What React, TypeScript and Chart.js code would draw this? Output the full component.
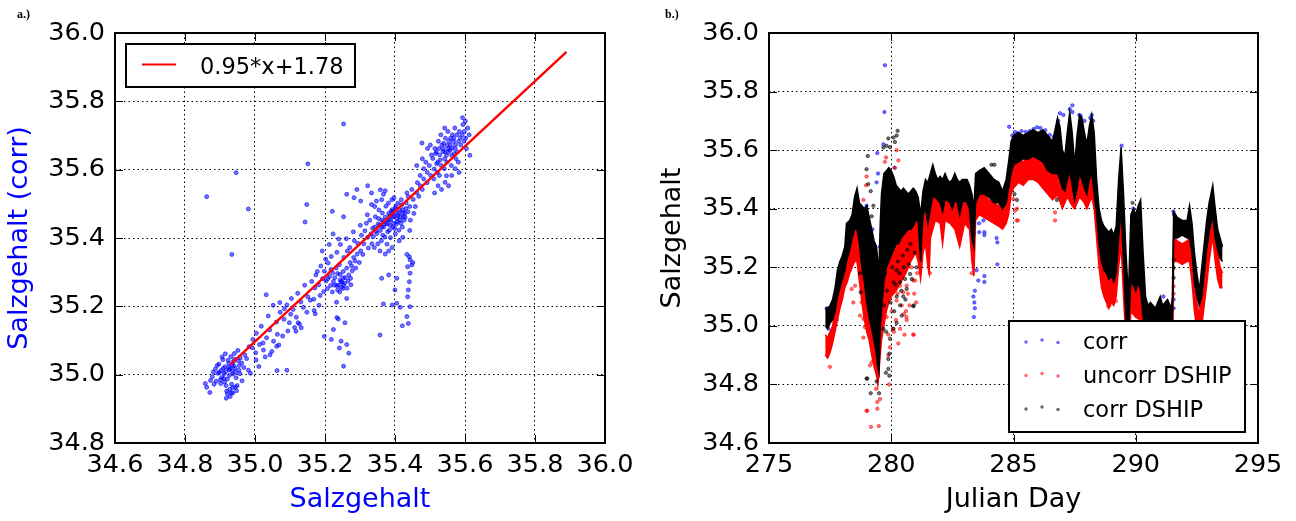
import React, { useEffect, useRef } from 'react';
import { Chart, registerables } from 'chart.js';

Chart.register(...registerables);

const FONT_FAMILY = '"DejaVu Sans", "Bitstream Vera Sans", sans-serif';

// ---------- Panel a ----------
const aXTicks = [34.6, 34.8, 35.0, 35.2, 35.4, 35.6, 35.8, 36.0];
const aYTicks = [34.8, 35.0, 35.2, 35.4, 35.6, 35.8, 36.0];
const aXTitle = 'Salzgehalt';
const aYTitle = 'Salzgehalt (corr)';
const fitLabel = '0.95*x+1.78';
const fitLine: [number, number][] = [[34.93, 35.03], [35.89, 35.945]];
const salinityPairs: [number, number][] = [
  [34.862,34.963],[34.871,34.948],[34.883,34.972],[34.878,34.994],[34.894,35.004],[34.889,34.981],[34.903,35.012],[34.897,35.031],[34.905,34.992],[34.914,35.023],
  [34.912,35.003],[34.917,34.968],[34.923,35.042],[34.926,35.014],[34.921,34.987],[34.928,34.957],[34.934,35.028],[34.931,35.053],[34.937,35.002],[34.932,34.947],
  [34.929,34.936],[34.943,35.019],[34.941,35.062],[34.946,34.991],[34.944,34.963],[34.952,35.041],[34.954,35.013],[34.951,35.071],[34.962,35.034],[34.958,35.049],
  [34.963,34.982],[34.971,35.058],[34.968,35.021],[34.887,35.017],[34.902,34.974],[34.908,35.044],[34.919,34.952],[34.881,35.008],[34.873,34.983],[34.949,34.968],
  [34.957,35.003],[34.938,35.038],[34.924,35.021],[34.913,34.979],[34.935,35.011],[34.906,35.052],[34.892,35.027],[34.976,35.047],[34.981,35.013],[34.987,35.004],
  [34.918,34.931],[34.936,34.962],[34.947,34.953],[34.915,35.061],[34.858,34.974],[34.916,35.009],[34.927,34.998],[34.939,35.026],[34.911,34.989],[34.933,34.972],
  [34.898,35.006],[34.942,35.045],[34.925,35.033],[34.909,35.018],[34.955,35.027],[34.921,34.944],[34.936,34.946],[34.944,35.007],[34.929,35.017],[34.901,34.985],
  [34.983,35.082],[34.994,35.103],[35.004,35.121],[35.002,35.064],[35.011,35.024],[35.023,35.093],[35.018,35.142],[35.033,35.108],[35.029,35.052],[35.042,35.131],
  [35.038,35.172],[35.053,35.098],[35.048,35.068],[35.061,35.154],[35.064,35.118],[35.072,35.183],[35.068,35.087],[35.083,35.162],[35.079,35.113],[35.091,35.204],
  [35.094,35.128],[35.102,35.177],[35.098,35.152],[35.104,35.223],[35.113,35.138],[35.109,35.191],[35.122,35.238],[35.118,35.168],[35.131,35.213],[35.127,35.148],
  [35.142,35.262],[35.138,35.197],[35.151,35.228],[35.148,35.183],[35.043,35.058],[35.062,35.083],[35.084,35.193],[35.052,35.203],[35.024,35.072],[35.117,35.127],
  [35.003,35.043],[35.032,35.234],[35.013,35.088],[35.071,35.211],[35.063,35.012],[34.992,35.079],[35.172,35.178],[35.168,35.221],[35.123,35.152],[35.132,35.137],
  [35.162,35.273],[35.158,35.218],[35.171,35.254],[35.174,35.292],[35.169,35.188],[35.182,35.263],[35.178,35.302],[35.186,35.232],[35.193,35.281],[35.188,35.318],
  [35.196,35.243],[35.203,35.274],[35.198,35.303],[35.202,35.338],[35.207,35.252],[35.213,35.287],[35.209,35.327],[35.216,35.261],[35.222,35.298],[35.218,35.346],
  [35.224,35.273],[35.221,35.242],[35.232,35.312],[35.228,35.284],[35.234,35.358],[35.236,35.248],[35.241,35.322],[35.243,35.293],[35.238,35.262],[35.244,35.381],
  [35.252,35.302],[35.248,35.271],[35.254,35.343],[35.251,35.252],[35.262,35.312],[35.258,35.284],[35.264,35.362],[35.261,35.398],[35.272,35.328],[35.268,35.292],
  [35.274,35.263],[35.271,35.372],[35.282,35.343],[35.278,35.304],[35.284,35.392],[35.281,35.418],[35.292,35.353],[35.288,35.312],[35.294,35.384],[35.302,35.362],
  [35.298,35.328],[35.304,35.408],[35.301,35.437],[35.239,35.397],[35.223,35.412],[35.192,35.362],[35.212,35.381],[35.262,35.223],[35.233,35.212],[35.183,35.203],
  [35.242,35.242],[35.238,35.163],[35.257,35.152],[35.224,35.132],[35.253,35.262],[35.263,35.253],[35.246,35.272],[35.252,35.283],[35.234,35.261],[35.273,35.282],
  [35.247,35.256],[35.256,35.268],[35.266,35.274],[35.243,35.277],[35.236,35.296],[35.227,35.262],[35.217,35.308],[35.208,35.281],[35.286,35.333],[35.276,35.318],
  [35.262,35.528],[35.283,35.518],[35.302,35.508],[35.221,35.478],[35.253,35.462],[35.291,35.542],[35.322,35.553],[35.333,35.532],[35.358,35.541],[35.372,35.538],
  [35.311,35.383],[35.314,35.421],[35.308,35.352],[35.322,35.402],[35.318,35.443],[35.324,35.371],[35.321,35.468],[35.331,35.412],[35.334,35.383],[35.328,35.452],
  [35.333,35.498],[35.342,35.432],[35.338,35.404],[35.344,35.462],[35.341,35.372],[35.352,35.441],[35.348,35.413],[35.354,35.482],[35.351,35.383],[35.347,35.508],
  [35.362,35.452],[35.358,35.422],[35.364,35.473],[35.361,35.392],[35.357,35.362],[35.372,35.461],[35.368,35.432],[35.374,35.493],[35.371,35.403],[35.367,35.528],
  [35.382,35.472],[35.378,35.442],[35.384,35.423],[35.381,35.502],[35.377,35.382],[35.392,35.483],[35.388,35.452],[35.394,35.432],[35.391,35.512],[35.387,35.401],
  [35.402,35.492],[35.398,35.463],[35.404,35.441],[35.401,35.412],[35.397,35.518],[35.412,35.473],[35.408,35.502],[35.414,35.452],[35.411,35.423],[35.422,35.483],
  [35.418,35.512],[35.424,35.462],[35.421,35.432],[35.432,35.503],[35.428,35.472],[35.434,35.532],[35.442,35.492],[35.438,35.521],[35.444,35.452],[35.452,35.513],
  [35.448,35.542],[35.454,35.472],[35.462,35.533],[35.458,35.492],[35.464,35.562],[35.472,35.553],[35.468,35.522],[35.482,35.573],[35.478,35.542],[35.492,35.592],
  [35.372,35.353],[35.392,35.372],[35.412,35.392],[35.362,35.512],[35.342,35.492],[35.442,35.422],[35.422,35.402],[35.382,35.362],[35.393,35.462],[35.403,35.472],
  [35.383,35.452],[35.373,35.442],[35.413,35.482],[35.396,35.443],[35.405,35.457],[35.363,35.433],[35.423,35.474],[35.385,35.465],[35.415,35.462],[35.395,35.476],
  [35.376,35.452],[35.386,35.437],[35.399,35.428],[35.407,35.448],[35.417,35.443],[35.426,35.452],[35.431,35.486],[35.437,35.477],[35.379,35.418],[35.366,35.447],
  [35.356,35.437],[35.389,35.478],[35.401,35.487],[35.409,35.466],[35.419,35.497],[35.429,35.461],[35.346,35.421],[35.336,35.428],[35.353,35.457],[35.365,35.408],
  [35.472,35.583],[35.482,35.603],[35.478,35.632],[35.492,35.562],[35.488,35.622],[35.502,35.583],[35.498,35.612],[35.504,35.643],[35.501,35.672],[35.512,35.602],
  [35.508,35.633],[35.514,35.662],[35.511,35.573],[35.522,35.622],[35.518,35.652],[35.524,35.683],[35.521,35.592],[35.532,35.612],[35.528,35.643],[35.534,35.672],
  [35.531,35.702],[35.527,35.583],[35.542,35.632],[35.538,35.662],[35.544,35.692],[35.541,35.603],[35.552,35.652],[35.548,35.622],[35.554,35.683],[35.551,35.712],
  [35.547,35.582],[35.562,35.642],[35.558,35.672],[35.564,35.702],[35.561,35.612],[35.572,35.662],[35.568,35.692],[35.574,35.632],[35.571,35.722],[35.582,35.683],
  [35.578,35.652],[35.584,35.712],[35.581,35.622],[35.592,35.702],[35.588,35.672],[35.594,35.732],[35.602,35.692],[35.598,35.712],[35.604,35.662],[35.612,35.702],
  [35.608,35.722],[35.614,35.642],[35.593,35.752],[35.601,35.742],[35.542,35.722],[35.523,35.553],[35.543,35.563],[35.562,35.583],[35.572,35.603],[35.583,35.592],
  [35.533,35.542],[35.553,35.553],[35.513,35.532],[35.493,35.662],[35.477,35.678],[35.462,35.612],[35.563,35.663],[35.573,35.673],[35.553,35.662],[35.543,35.652],
  [35.537,35.653],[35.547,35.642],[35.557,35.657],[35.567,35.683],[35.529,35.628],[35.519,35.617],[35.539,35.677],[35.559,35.692],[35.577,35.702],[35.587,35.693],
  [35.597,35.683],[35.526,35.662],[35.516,35.647],[35.549,35.671],[35.569,35.647],
  [34.862,35.521],[34.946,35.591],[34.934,35.352],[34.981,35.485],[35.151,35.617],[35.253,35.734],[35.148,35.498],[35.143,35.447],[35.357,35.116],[35.253,35.025],
  [35.218,35.103],[35.246,35.098],[35.262,35.088],[35.268,35.063],[35.241,35.078],[35.234,35.167],[35.198,35.112],[35.091,35.013],
  [35.367,35.207],[35.392,35.204],[35.405,35.209],[35.415,35.197],[35.421,35.143],[35.438,35.150],[35.434,35.170],[35.443,35.199],[35.436,35.228],[35.438,35.248],
  [35.441,35.272],[35.443,35.297],[35.436,35.316],[35.448,35.321],[35.441,35.345],[35.451,35.328],[35.434,35.352],[35.443,35.336],[35.405,35.282],[35.400,35.248],
  [35.382,35.292],[35.362,35.282]
];

// ---------- Panel b ----------
const bXTicks = [275, 280, 285, 290, 295];
const bYTicks = [34.6, 34.8, 35.0, 35.2, 35.4, 35.6, 35.8, 36.0];
const bXTitle = 'Julian Day';
const bYTitle = 'Salzgehalt';
const seriesLabels = ['corr', 'uncorr DSHIP', 'corr DSHIP'];
const seriesColors = ['rgba(0,0,255,0.6)', 'rgba(255,0,0,0.6)', 'rgba(0,0,0,0.6)'];

// [julian day, upper edge, lower edge] of the dense point bands
const dshipCorrBand: [number, number, number][] = [
  [277.30,35.06,35.00],[277.40,35.06,34.99],[277.50,35.07,35.01],[277.60,35.09,35.02],[277.70,35.13,35.05],[277.80,35.19,35.10],
  [277.90,35.22,35.13],[278.00,35.24,35.16],[278.10,35.27,35.19],[278.17,35.35,35.22],[278.30,35.36,35.26],[278.40,35.38,35.30],
  [278.50,35.44,35.33],[278.60,35.47,35.33],[278.70,35.42,35.28],[278.80,35.41,35.20],[278.90,35.40,35.15],[279.00,35.41,35.08],
  [279.10,35.37,35.03],[279.20,35.33,34.99],[279.30,35.29,34.95],[279.40,35.27,34.90],[279.45,35.22,34.86],[279.50,35.20,34.84],
  [279.55,35.35,35.00],[279.60,35.45,35.05],[279.70,35.52,35.15],[279.80,35.53,35.20],[279.90,35.54,35.22],[280.00,35.53,35.24],
  [280.10,35.51,35.26],[280.20,35.48,35.28],[280.30,35.47,35.28],[280.40,35.46,35.30],[280.50,35.47,35.31],[280.60,35.46,35.32],
  [280.70,35.45,35.33],[280.80,35.46,35.33],[280.90,35.47,35.34],[281.00,35.46,35.36],[281.10,35.44,35.36],[281.20,35.38,35.22],
  [281.30,35.46,35.38],[281.40,35.50,35.40],[281.50,35.49,35.35],[281.60,35.52,35.40],[281.70,35.55,35.44],[281.80,35.52,35.44],
  [281.90,35.50,35.43],[282.00,35.51,35.42],[282.10,35.50,35.39],[282.20,35.52,35.43],[282.30,35.50,35.43],[282.40,35.49,35.42],
  [282.50,35.50,35.40],[282.60,35.52,35.43],[282.70,35.50,35.42],[282.80,35.49,35.38],[282.90,35.50,35.42],[283.00,35.50,35.43],
  [283.10,35.50,35.42],[283.20,35.48,35.40],[283.30,35.45,35.30],[283.38,35.40,35.27],[283.45,35.52,35.42],[283.60,35.53,35.45],
  [283.80,35.54,35.45],[284.00,35.52,35.44],[284.20,35.50,35.42],[284.40,35.49,35.42],[284.55,35.46,35.40],[284.70,35.50,35.42],
  [284.80,35.56,35.47],[284.90,35.63,35.52],[285.00,35.65,35.55],[285.20,35.66,35.56],[285.40,35.65,35.57],[285.60,35.66,35.57],
  [285.80,35.67,35.58],[286.00,35.66,35.57],[286.20,35.67,35.56],[286.40,35.65,35.53],[286.60,35.63,35.52],[286.80,35.71,35.52],
  [286.90,35.68,35.50],[287.00,35.60,35.47],[287.10,35.58,35.46],[287.20,35.66,35.50],[287.30,35.73,35.53],[287.40,35.66,35.48],
  [287.50,35.55,35.43],[287.60,35.65,35.47],[287.70,35.72,35.52],[287.80,35.71,35.50],[287.90,35.66,35.47],[288.00,35.62,35.45],
  [288.10,35.68,35.50],[288.20,35.72,35.52],[288.30,35.66,35.45],[288.40,35.50,35.38],[288.50,35.40,35.28],[288.60,35.36,35.22],
  [288.70,35.34,35.19],[288.80,35.33,35.18],[288.90,35.32,35.16],[289.00,35.33,35.17],[289.10,35.31,35.15],[289.20,35.34,35.18],
  [289.30,35.50,35.30],[289.40,35.61,35.40],[289.50,35.45,35.22],[289.60,35.25,35.02],[289.70,35.10,34.98],[289.80,35.38,35.15],
  [289.90,35.40,35.14],[290.00,35.38,35.12],[290.10,35.41,35.15],[290.20,35.43,35.12],[290.30,35.25,35.03],[290.40,35.10,34.98],
  [290.50,35.07,34.95],[290.60,35.08,34.96],[290.80,35.06,34.96],[291.00,35.10,34.97],[291.10,35.07,34.96],[291.30,35.09,34.97],
  [291.45,35.06,34.97],[291.50,35.10,35.00],[291.55,35.39,35.30],[291.70,35.37,35.30],[291.90,35.36,35.31],[292.10,35.36,35.30],
  [292.20,35.41,35.30],[292.30,35.35,35.25],[292.40,35.25,35.15],[292.50,35.18,35.10],[292.60,35.12,35.07],[292.70,35.20,35.10],
  [292.80,35.28,35.18],[292.90,35.36,35.26],[293.00,35.42,35.32],[293.10,35.46,35.36],[293.15,35.48,35.38],[293.25,35.40,35.30],
  [293.35,35.33,35.26],[293.45,35.30,35.23],[293.55,35.27,35.22]
];

const dshipUncorrBand: [number, number, number][] = [
  [277.30,34.97,34.90],[277.40,34.96,34.89],[277.50,34.98,34.91],[277.60,35.00,34.94],[277.70,35.05,34.98],[277.80,35.10,35.02],
  [277.90,35.15,35.06],[278.00,35.19,35.09],[278.10,35.22,35.13],[278.20,35.25,35.15],[278.30,35.28,35.18],[278.40,35.31,35.20],
  [278.50,35.33,35.22],[278.60,35.33,35.22],[278.70,35.30,35.15],[278.80,35.32,35.08],[278.90,35.35,35.02],[279.00,35.33,34.98],
  [279.10,35.28,34.95],[279.20,35.22,34.90],[279.30,35.18,34.86],[279.40,35.10,34.83],[279.45,35.05,34.80],[279.50,35.10,34.85],
  [279.60,35.30,34.95],[279.70,35.40,35.00],[279.80,35.45,35.05],[279.90,35.45,35.08],[280.00,35.44,35.10],[280.20,35.40,35.12],
  [280.40,35.38,35.15],[280.60,35.38,35.18],[280.80,35.40,35.22],[281.00,35.40,35.25],[281.10,35.38,35.22],[281.20,35.30,35.16],
  [281.30,35.38,35.25],[281.40,35.42,35.28],[281.50,35.40,35.20],[281.55,35.38,35.18],[281.60,35.43,35.30],[281.80,35.44,35.36],
  [282.00,35.43,35.35],[282.10,35.42,35.28],[282.20,35.44,35.36],[282.40,35.43,35.35],[282.60,35.44,35.33],[282.80,35.42,35.27],
  [283.00,35.44,35.35],[283.20,35.42,35.33],[283.30,35.38,35.22],[283.38,35.32,35.17],[283.45,35.45,35.36],[283.60,35.46,35.38],
  [283.80,35.45,35.37],[284.00,35.43,35.36],[284.20,35.42,35.35],[284.40,35.41,35.34],[284.55,35.40,35.33],[284.70,35.42,35.35],
  [284.80,35.48,35.38],[284.90,35.53,35.45],[285.00,35.56,35.47],[285.20,35.57,35.49],[285.40,35.56,35.48],[285.60,35.58,35.50],
  [285.80,35.59,35.50],[286.00,35.58,35.49],[286.20,35.57,35.47],[286.40,35.55,35.45],[286.60,35.54,35.43],[286.80,35.58,35.45],
  [287.00,35.52,35.40],[287.20,35.56,35.44],[287.40,35.55,35.41],[287.50,35.48,35.40],[287.70,35.58,35.44],[287.90,35.55,35.42],
  [288.00,35.52,35.40],[288.20,35.58,35.44],[288.30,35.55,35.40],[288.40,35.44,35.30],[288.50,35.33,35.20],[288.60,35.27,35.13],
  [288.70,35.25,35.10],[288.80,35.24,35.08],[288.90,35.23,35.06],[289.00,35.24,35.08],[289.10,35.22,35.07],[289.20,35.26,35.10],
  [289.30,35.38,35.20],[289.40,35.45,35.28],[289.50,35.32,35.10],[289.60,35.12,34.95],[289.70,35.00,34.90],[289.80,35.27,35.05],
  [290.00,35.28,35.03],[290.20,35.30,35.02],[290.30,35.15,34.95],[290.40,35.00,34.88],[290.60,34.97,34.88],[291.00,34.98,34.89],
  [291.45,34.97,34.88],[291.50,35.00,34.90],[291.55,35.30,35.22],[291.70,35.29,35.22],[291.90,35.28,35.21],[292.10,35.29,35.22],
  [292.20,35.30,35.22],[292.30,35.25,35.15],[292.40,35.17,35.05],[292.50,35.08,34.99],[292.60,35.04,34.97],[292.70,35.10,35.00],
  [292.80,35.18,35.07],[292.90,35.26,35.14],[293.00,35.32,35.22],[293.10,35.38,35.28],[293.15,35.40,35.30],[293.25,35.33,35.22],
  [293.35,35.25,35.16],[293.45,35.20,35.13],[293.55,35.18,35.13]
];

const corrPoints: [number, number][] = [
  [277.36,35.06],[277.43,34.99],[277.50,34.97],[277.77,35.02],[277.79,35.12],[278.29,35.29],[278.99,35.41],[279.23,35.33],
  [279.40,35.49],[279.43,35.59],[279.46,35.52],[279.54,35.27],[279.68,35.62],[279.72,35.73],[279.74,35.89],[279.85,35.51],
  [280.13,35.54],[281.38,35.43],
  [283.36,35.10],[283.40,35.08],[283.42,35.06],[283.38,35.03],[283.42,35.12],[283.49,35.19],[283.56,35.155],[283.81,35.17],
  [283.81,35.15],[283.60,35.32],[283.59,35.35],[283.63,35.39],[283.81,35.32],[283.81,35.31],[283.77,35.36],[284.31,35.30],
  [284.34,35.285],[284.34,35.21],[284.11,35.45],[284.20,35.45],[284.45,35.41],[284.82,35.68],
  [284.95,35.65],[285.06,35.662],[285.18,35.658],[285.33,35.665],[285.50,35.662],[285.66,35.665],[285.82,35.672],
  [285.96,35.678],[286.10,35.676],[286.30,35.668],[286.48,35.652],[286.64,35.645],[286.83,35.70],[286.90,35.726],
  [287.04,35.72],[287.30,35.74],[287.41,35.753],[287.41,35.73],[287.69,35.72],[287.75,35.717],[287.90,35.70],[288.14,35.71],
  [288.20,35.72],[288.26,35.70],[289.42,35.615],[289.90,35.40],[289.97,35.38],[291.13,35.10],[291.54,35.39],[291.56,35.38],
  [291.55,35.06],[291.55,35.09]
];

const dshipUncorrPoints: [number, number][] = [
  [277.49,34.86],[278.99,35.51],[278.97,35.48],[278.86,35.43],[278.79,35.08],[278.86,34.96],[279.13,34.865],[279.20,34.876],
  [278.99,34.71],[279.17,34.655],[279.49,34.658],[279.43,34.717],[279.43,34.74],[279.54,34.75],[279.38,34.785],[279.74,35.56],
  [279.79,35.575],[280.22,35.60],[280.29,35.565],[280.15,35.54],[279.88,34.97],[279.88,34.90],[279.95,34.927],[280.06,34.99],
  [280.29,34.94],[280.36,34.99],[280.54,34.97],[280.90,34.97],[280.63,35.02],[280.60,35.05],[280.43,35.07],[280.22,35.086],
  [280.49,35.115],[280.36,35.137],[280.63,35.137],[280.90,35.155],[280.97,35.155],[280.15,35.17],[280.09,35.126],[279.74,35.126],
  [279.61,35.058],[278.86,35.024],[278.93,34.995],[278.72,35.035],[278.52,35.137],[278.45,35.08],[278.38,35.126],[278.31,35.19],
  [278.25,35.217],[279.13,35.24],[279.06,35.17],[279.34,35.10],[279.91,34.80],[279.02,34.71],[280.62,35.03],[280.92,34.97],
  [279.72,35.21],[279.81,35.03],[279.93,35.16],[280.02,35.05],[280.11,34.98],[280.19,35.02],[280.26,35.11],[280.38,35.21],
  [280.45,35.18],[280.51,35.04],[280.57,35.25],[280.68,35.11],[280.75,35.07],[280.83,35.20],[280.94,35.11],[281.02,35.08],
  [281.06,35.18],
  [285.13,35.36],[285.06,35.393],[284.99,35.433],[281.58,35.18],[283.29,35.18],[286.70,35.387],[286.70,35.36],[286.77,35.44],
  [288.88,35.067],[289.08,35.098],[289.63,35.02],[288.92,35.07],[289.19,35.085],[285.18,35.36],[285.14,35.40],[291.55,35.11],
  [291.55,35.135]
];

const dshipCorrPoints: [number, number][] = [
  [280.26,35.666],[280.22,35.65],[280.09,35.643],[280.15,35.628],[279.88,35.64],[279.95,35.61],[279.81,35.615],[279.68,35.609],
  [279.04,35.58],[278.99,35.535],[279.16,35.46],[279.06,35.484],[279.27,35.41],[279.20,35.374],[278.99,35.32],[278.72,35.18],
  [278.75,35.115],[278.99,34.82],[279.16,34.77],[279.50,34.77],[279.40,34.81],[279.88,34.853],[279.92,34.905],[279.92,34.83],
  [279.88,34.887],[279.68,34.99],[279.95,34.956],[280.09,34.99],[280.22,35.01],[280.36,35.07],[280.43,35.035],[280.49,35.10],
  [280.63,35.126],[280.90,35.067],[280.77,35.177],[280.56,35.16],[280.36,35.149],[280.22,35.19],[280.22,35.10],[280.09,35.149],
  [280.92,35.07],[279.02,34.82],[279.78,34.84],
  [279.75,35.18],[279.83,35.12],[279.97,35.08],[280.04,35.20],[280.12,35.05],[280.18,35.14],[280.27,35.22],[280.33,35.18],
  [280.41,35.12],[280.47,35.24],[280.52,35.20],[280.58,35.09],[280.66,35.26],[280.71,35.21],[280.79,35.28],[280.84,35.16],
  [280.96,35.25],[281.03,35.20],[279.71,35.07],[279.79,34.98],
  [289.87,35.42],[291.55,35.226],[291.55,35.198],[291.55,35.164],[285.04,35.45],
  [285.14,35.43],[286.78,35.43],[284.22,35.55],[284.10,35.55]
];

type Row3 = [number, number, number];

function fmt(v: number, decimals: number) {
  return Number(v).toFixed(decimals);
}

function makeAxis(ticks: number[], decimals: number, title: string, titleColor: string, isY: boolean, size: number, titlePad: number) {
  return {
    type: 'linear',
    position: isY ? 'left' : 'bottom',
    min: ticks[0],
    max: ticks[ticks.length - 1],
    afterBuildTicks: (s: any) => {
      s.ticks = ticks.map((v) => ({ value: v }));
    },
    afterFit: (s: any) => {
      if (isY) s.width = size;
      else s.height = size;
    },
    grid: { color: '#000', lineWidth: 1, drawTicks: false },
    border: { display: false, dash: [1.5, 3] },
    ticks: {
      color: '#000',
      font: { family: FONT_FAMILY, size: 25.5 },
      padding: isY ? 10 : 7,
      maxRotation: 0,
      minRotation: 0,
      autoSkip: false,
      callback: (v: any) => fmt(v, decimals),
    },
    title: {
      display: true,
      text: title,
      color: titleColor,
      font: { family: FONT_FAMILY, size: 27 },
      padding: isY ? { top: titlePad, bottom: 0 } : { top: 0, bottom: titlePad },
    },
  };
}

const framePlugin = {
  id: 'frame',
  afterDatasetsDraw(chart: any) {
    const { ctx, chartArea, scales } = chart;
    const { left, top, right, bottom } = chartArea;
    const L = 8;
    ctx.save();
    ctx.strokeStyle = '#000';
    ctx.lineWidth = 1;
    ctx.setLineDash([]);
    ctx.beginPath();
    for (const t of scales.x.ticks) {
      const px = Math.round(scales.x.getPixelForValue(t.value)) + 0.5;
      ctx.moveTo(px, top); ctx.lineTo(px, top + L);
      ctx.moveTo(px, bottom); ctx.lineTo(px, bottom - L);
    }
    for (const t of scales.y.ticks) {
      const py = Math.round(scales.y.getPixelForValue(t.value)) + 0.5;
      ctx.moveTo(left, py); ctx.lineTo(left + L, py);
      ctx.moveTo(right, py); ctx.lineTo(right - L, py);
    }
    ctx.stroke();
    ctx.lineWidth = 2;
    ctx.strokeRect(left, top, right - left, bottom - top);
    ctx.restore();
  },
};

const legendAPlugin = {
  id: 'legendA',
  afterDraw(chart: any) {
    const { ctx, chartArea } = chart;
    const x0 = chartArea.left + 11;
    const y0 = chartArea.top + 11;
    ctx.save();
    ctx.fillStyle = '#fff';
    ctx.fillRect(x0, y0, 229, 43);
    ctx.strokeStyle = '#000';
    ctx.lineWidth = 2;
    ctx.strokeRect(x0, y0, 229, 43);
    ctx.strokeStyle = '#ff0000';
    ctx.lineWidth = 2;
    ctx.beginPath();
    ctx.moveTo(x0 + 16, y0 + 20.5);
    ctx.lineTo(x0 + 50, y0 + 20.5);
    ctx.stroke();
    ctx.fillStyle = '#000';
    ctx.font = `22.5px ${FONT_FAMILY}`;
    ctx.textBaseline = 'alphabetic';
    ctx.fillText(fitLabel, x0 + 74, y0 + 29.5);
    ctx.restore();
  },
};

const legendBPlugin = {
  id: 'legendB',
  afterDraw(chart: any) {
    const { ctx, chartArea } = chart;
    const w = 236;
    const h = 111;
    const x0 = chartArea.right - 13 - w;
    const y0 = chartArea.bottom - 11 - h;
    ctx.save();
    ctx.fillStyle = '#fff';
    ctx.fillRect(x0, y0, w, h);
    ctx.strokeStyle = '#000';
    ctx.lineWidth = 2;
    ctx.strokeRect(x0, y0, w, h);
    const rowDot = [20.5, 54, 87.5];
    const rowText = [27.5, 61.5, 95.5];
    const dx = [17, 33, 49];
    const dy = [0.5, -1.5, 1];
    ctx.font = `22.5px ${FONT_FAMILY}`;
    ctx.textBaseline = 'alphabetic';
    seriesLabels.forEach((lab, i) => {
      ctx.fillStyle = seriesColors[i];
      dx.forEach((d, k) => {
        ctx.beginPath();
        ctx.arc(x0 + d, y0 + rowDot[i] + dy[k], 1.7, 0, Math.PI * 2);
        ctx.fill();
      });
      ctx.fillStyle = '#000';
      ctx.fillText(lab, x0 + 74, y0 + rowText[i]);
    });
    ctx.restore();
  },
};

function bandDatasets(rows: Row3[], color: string, order: number) {
  return [
    {
      type: 'line',
      data: rows.map((r) => ({ x: r[0], y: r[1] })),
      borderColor: color,
      backgroundColor: color,
      borderWidth: 1.5,
      pointRadius: 0,
      fill: '+1',
      tension: 0,
      order,
    },
    {
      type: 'line',
      data: rows.map((r) => ({ x: r[0], y: r[2] })),
      borderColor: color,
      backgroundColor: color,
      borderWidth: 1.5,
      pointRadius: 0,
      fill: false,
      tension: 0,
      order,
    },
  ];
}

function pointDataset(pts: [number, number][], fillColor: string, edgeColor: string, order: number, radius: number) {
  return {
    type: 'line',
    data: pts.map((p) => ({ x: p[0], y: p[1] })),
    showLine: false,
    pointRadius: radius,
    pointBackgroundColor: fillColor,
    pointBorderColor: edgeColor,
    pointBorderWidth: 0.7,
    borderWidth: 0,
    order,
  };
}

function configA(): any {
  return {
    type: 'line',
    data: {
      datasets: [
        {
          type: 'line',
          data: fitLine.map((p) => ({ x: p[0], y: p[1] })),
          borderColor: '#ff0000',
          borderWidth: 2.4,
          pointRadius: 0,
          fill: false,
          order: 1,
        },
        pointDataset(salinityPairs, 'rgba(0,0,255,0.55)', 'rgba(0,0,255,0.85)', 2, 2),
      ],
    },
    options: {
      responsive: false,
      animation: false,
      events: [],
      layout: { padding: { top: 33, right: 43, left: 0, bottom: 0 } },
      plugins: { legend: { display: false }, tooltip: { enabled: false } },
      scales: {
        x: makeAxis(aXTicks, 1, aXTitle, '#0000ff', false, 78, 5),
        y: makeAxis(aYTicks, 1, aYTitle, '#0000ff', true, 115, 4),
      },
    },
    plugins: [framePlugin, legendAPlugin],
  };
}

function configB(): any {
  return {
    type: 'line',
    data: {
      datasets: [
        ...bandDatasets(dshipCorrBand, '#000000', 4),
        pointDataset(dshipCorrPoints, 'rgba(0,0,0,0.55)', 'rgba(0,0,0,0.75)', 3, 1.7),
        ...bandDatasets(dshipUncorrBand, '#ff0000', 7),
        pointDataset(dshipUncorrPoints, 'rgba(255,0,0,0.55)', 'rgba(255,0,0,0.75)', 6, 1.7),
        pointDataset(corrPoints, 'rgba(0,0,255,0.55)', 'rgba(0,0,255,0.75)', 9, 1.7),
      ],
    },
    options: {
      responsive: false,
      animation: false,
      events: [],
      layout: { padding: { top: 33, right: 38, left: 0, bottom: 0 } },
      plugins: { legend: { display: false }, tooltip: { enabled: false } },
      scales: {
        x: makeAxis(bXTicks, 0, bXTitle, '#000', false, 78, 5),
        y: makeAxis(bYTicks, 1, bYTitle, '#000', true, 121, 9),
      },
    },
    plugins: [framePlugin, legendBPlugin],
  };
}

export default function App() {
  const refA = useRef<HTMLCanvasElement>(null);
  const refB = useRef<HTMLCanvasElement>(null);

  useEffect(() => {
    const a = new Chart(refA.current as HTMLCanvasElement, configA());
    const b = new Chart(refB.current as HTMLCanvasElement, configB());
    return () => {
      a.destroy();
      b.destroy();
    };
  }, []);

  const tag: React.CSSProperties = {
    position: 'absolute',
    top: 8,
    fontFamily: '"Liberation Serif", "DejaVu Serif", serif',
    fontWeight: 'bold',
    fontSize: 12,
    lineHeight: '12px',
    color: '#000',
  };

  return (
    <div style={{ position: 'fixed', left: 0, top: 0, width: 1296, height: 521, background: '#fff' }}>
      <canvas ref={refA} width={648} height={521} style={{ position: 'absolute', left: 0, top: 0, width: 648, height: 521 }} />
      <canvas ref={refB} width={648} height={521} style={{ position: 'absolute', left: 648, top: 0, width: 648, height: 521 }} />
      <span style={{ ...tag, left: 17 }}>a.)</span>
      <span style={{ ...tag, left: 665 }}>b.)</span>
    </div>
  );
}
